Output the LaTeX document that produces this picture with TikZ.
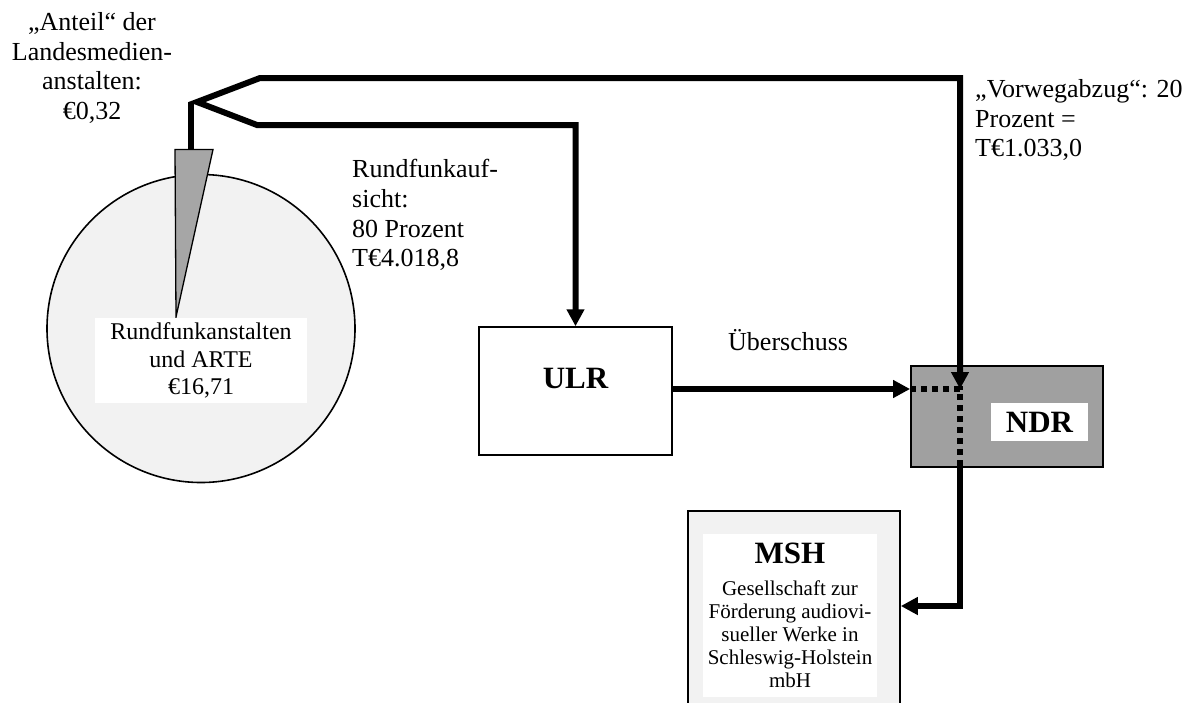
\documentclass[tikz,border=0pt]{standalone}
\usepackage{fontspec}
\setmainfont{Liberation Serif}
\usetikzlibrary{arrows.meta}
\definecolor{pielight}{HTML}{F2F2F2}
\definecolor{wedgegray}{HTML}{A6A6A6}
\definecolor{ndrgray}{HTML}{A0A0A0}
\tikzset{
  arr/.tip={Triangle[length=17pt,width=17pt]},
  conn/.style={line width=6pt, line join=miter, draw=black},
  dotconn/.style={line width=6pt, draw=black, dash pattern=on 6pt off 5pt},
  lbl/.style={font=\fontsize{26}{29.8}\selectfont, inner sep=0pt},
  boldlbl/.style={font=\fontsize{31}{31}\selectfont\bfseries, inner sep=0pt},
  whitebox/.style={fill=white, inner sep=0pt, align=center},
  framebox/.style={draw=black, line width=1.8pt, inner sep=0pt}
}
\begin{document}
\begin{tikzpicture}[x=1pt,y=-1pt]
\useasboundingbox (0,0) rectangle (1197,702);
\clip (0,0) rectangle (1197,702);

% pie
\node[circle, draw=black, line width=1.6pt, fill=pielight, minimum size=308pt, inner sep=0pt] (pie) at (201,328.5) {};
\coordinate (wtop) at (191,149.5);
\coordinate (wl) at (175,149.5);
\coordinate (wr) at (213,149.5);
\coordinate (wapex) at (176,317);
\draw[line width=1.3pt, fill=wedgegray, line join=miter] (wl) -- (wr) -- (wapex) -- cycle;
\node[whitebox, minimum width=212pt, minimum height=85pt, font=\fontsize{24}{27.5}\selectfont] (pielabel) at (201,360.5) {Rundfunkanstalten\\und ARTE\\€16,71};

% boxes
\node[framebox, line width=1.5pt, fill=white, minimum width=193pt, minimum height=128pt] (ulr) at (575.5,391) {};
\node[boldlbl, anchor=base] (ulrlabel) at (575.5,388) {ULR};

\node[framebox, fill=ndrgray, minimum width=192pt, minimum height=101pt] (ndr) at (1007,416.5) {};
\node[whitebox, boldlbl, minimum width=97pt, minimum height=38pt] (ndrlabel) at (1039.5,422) {NDR};

\node[framebox, fill=pielight, minimum width=212pt, minimum height=230pt, anchor=north west] (msh) at (687,510) {};
\node[whitebox, minimum width=174pt, minimum height=163pt, font=\fontsize{21}{23}\selectfont] (mshlabel) at (790,615.5)
  {{\fontsize{31}{31}\selectfont\bfseries MSH}\\[9pt]Gesellschaft zur\\Förderung audiovi-\\sueller Werke in\\Schleswig-Holstein\\mbH};

% connectors
\coordinate (j) at (197,102);
\coordinate (jstick) at (191,102);
\coordinate (up) at (260,78);
\coordinate (low) at (257,125);
\coordinate (upr) at (960,78);
\coordinate (nd) at (960,389);
\coordinate (corner) at (960,606);
\coordinate (lowr) at (575.5,125);

\draw[conn] (jstick) -- (wtop);
\draw[conn, arr-arr] (ulr.north) -- (lowr) -- (low) -- (j) -- (up) -- (upr) -- (nd);
\draw[conn, -arr] (ulr.east |- nd) -- (ndr.west |- nd);
\draw[dotconn] (ndr.west |- nd) -- (nd) -- (nd |- ndr.south);
\draw[conn, -arr] (nd |- ndr.south) -- (corner) -- (msh.east |- corner);

% labels
\node[lbl, align=center, anchor=north] (anteil) at (92,12) {„Anteil“ der\\Landesmedien-\\anstalten:\\€0,32};
\node[lbl, align=left, anchor=north west] (aufsicht) at (352,159) {Rundfunkauf-\\sicht:\\80 Prozent\\T€4.018,8};
\node[lbl, align=left, anchor=north west] (vorweg) at (975,79) {„Vorwegabzug“: 20\\Prozent =\\T€1.033,0};
\node[lbl, anchor=base west] (ueber) at (728,350) {Überschuss};
\end{tikzpicture}
\end{document}
